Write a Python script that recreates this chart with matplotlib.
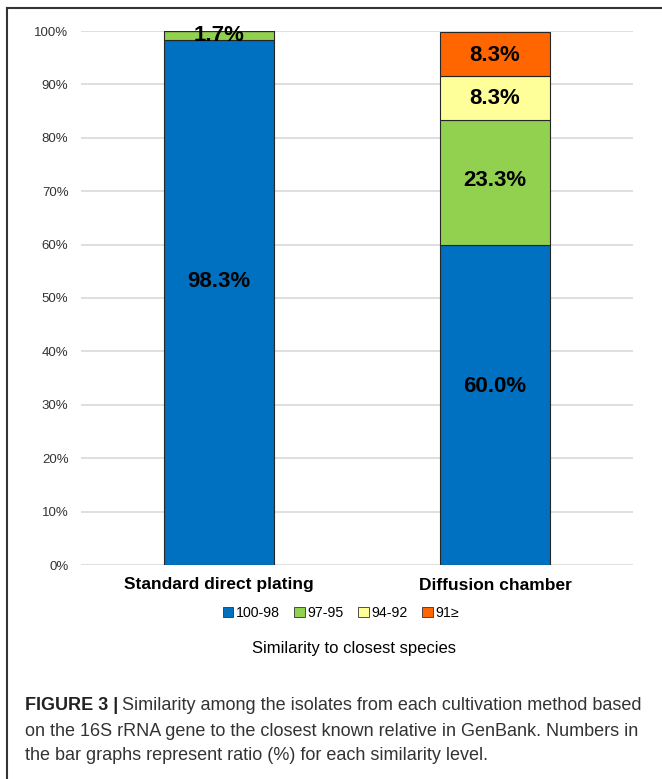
import numpy as np
import matplotlib.pyplot as plt
from matplotlib.patches import Patch
from matplotlib.lines import Line2D

plt.rcParams['font.family'] = ['Liberation Sans', 'DejaVu Sans']

methods = ["Standard direct plating", "Diffusion chamber"]
levels = ["100-98", "97-95", "94-92", "91\u2265"]
colors = ["#0070C0", "#92D050", "#FFFF99", "#FF6600"]
# percent of isolates at each similarity level, per method
v_100_98 = [98.3, 60.0]
v_97_95 = [1.7, 23.3]
v_94_92 = [0.0, 8.3]
v_91 = [0.0, 8.3]
series = [v_100_98, v_97_95, v_94_92, v_91]
# small vertical nudges for the value labels (in % units), like the original
nudges = [[3.9, 3.4], [0, 0.4], [0, 0], [0, -0.4]]

W, H = 662, 779
fig = plt.figure(figsize=(W / 100, H / 100), dpi=100)
ax = fig.add_axes([81 / W, 1 - 565 / H, (633 - 81) / W, (565 - 31) / H])

x = np.arange(len(methods))
bottom = np.zeros(len(methods))
for vals, col, nd in zip(series, colors, nudges):
    vals = np.array(vals)
    ax.bar(x, vals, 0.4, bottom=bottom, color=col, edgecolor="#262626",
           linewidth=0.8, zorder=3)
    for xi, v, b, n in zip(x, vals, bottom, nd):
        if v > 0:
            ax.text(xi, b + v / 2 + n, f"{v:.1f}%", ha="center", va="center",
                    fontsize=16, fontweight="bold", zorder=4)
    bottom += vals

ax.set_xlim(-0.5, 1.5)
ax.set_ylim(0, 100)
ax.set_yticks(np.arange(0, 101, 10))
ax.set_yticklabels([f"{t}%" for t in range(0, 101, 10)], fontsize=9.5, color="#333333")
ax.set_xticks(x)
ax.set_xticklabels(methods, fontsize=12.5, fontweight="bold")
ax.tick_params(length=0, pad=9)
ax.tick_params(axis="x", pad=9)
ax.grid(axis="y", color="#d9d9d9", linewidth=1.2, zorder=0)
for s in ax.spines.values():
    s.set_visible(False)

handles = [Patch(facecolor=c, edgecolor="#333333", linewidth=0.6) for c in colors]
fig.legend(handles, levels, loc="center", bbox_to_anchor=(341 / W, 1 - 613 / H),
           ncol=4, frameon=False, fontsize=10.2, handlelength=0.75, handleheight=0.75,
           handletextpad=0.2, columnspacing=1.0)
fig.text(354 / W, 1 - 648 / H, "Similarity to closest species", ha="center",
         va="center", fontsize=12)

# outer frame
fig.add_artist(Line2D([7 / W, 7 / W], [0, 1 - 8 / H], color="#333333", lw=1.5))
fig.add_artist(Line2D([7 / W, 1], [1 - 8 / H, 1 - 8 / H], color="#333333", lw=1.5))

# caption
cap_size = 13
t0 = fig.text(25 / W, 1 - 706 / H, "FIGURE 3 |", fontsize=cap_size,
              fontweight="bold", va="center", color="#222222")
fig.canvas.draw()
bb = t0.get_window_extent()
fig.text((bb.x1 + 4) / W, 1 - 706 / H,
         "Similarity among the isolates from each cultivation method based",
         fontsize=cap_size, va="center", color="#333333")
fig.text(25 / W, 1 - 731 / H,
         "on the 16S rRNA gene to the closest known relative in GenBank. Numbers in",
         fontsize=cap_size, va="center", color="#333333")
fig.text(25 / W, 1 - 756 / H,
         "the bar graphs represent ratio (%) for each similarity level.",
         fontsize=cap_size, va="center", color="#333333")

fig.savefig("out.png", dpi=100)
